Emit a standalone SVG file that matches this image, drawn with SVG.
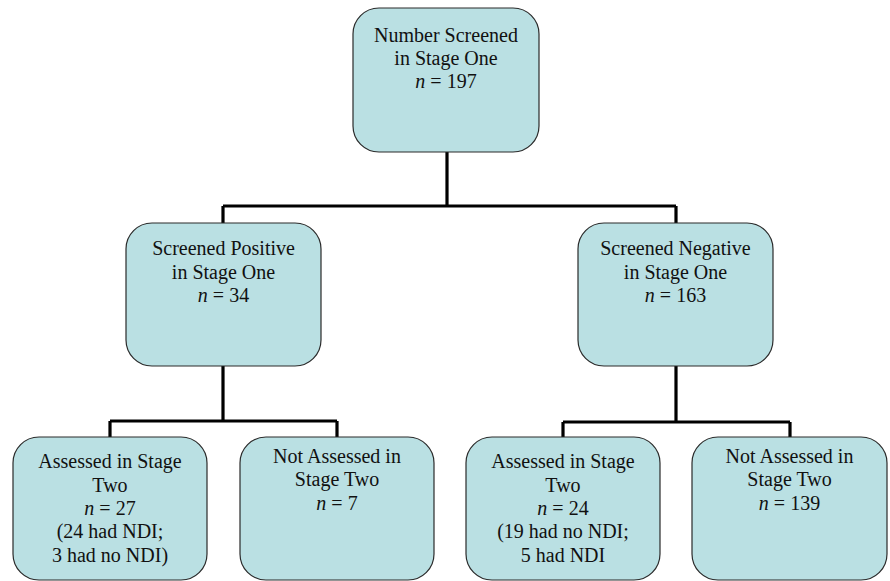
<svg xmlns="http://www.w3.org/2000/svg" width="890" height="581" viewBox="0 0 890 581">
<style>
.box{fill:#BAE0E3;stroke:#2a2a2a;stroke-width:1.2}
.t{font-family:'Liberation Serif','DejaVu Serif',serif;font-size:20px;fill:#111;text-anchor:middle}
.conn{fill:none;stroke:#000;stroke-width:3.2}
</style>
<rect width="890" height="581" fill="#fff"/>
<g id="connectors" class="conn">
<path d="M447 152V206M223 206H676M223 206V223M676 206V223"/>
<path d="M223 366V421M110 421H337M110 421V437M337 421V437"/>
<path d="M676 366V422M563 422H790M563 422V437M790 422V437"/>
</g>
<g id="n1"><rect class="box" x="353" y="8" width="186" height="144" rx="26"/>
<text class="t" font-family="Liberation Serif, serif"><tspan x="446" y="42">Number Screened</tspan><tspan x="446" y="65">in Stage One</tspan><tspan x="446" y="88"><tspan font-style="italic">n</tspan> = 197</tspan></text></g>
<g id="n2"><rect class="box" x="126" y="223" width="195" height="143" rx="26"/>
<text class="t" font-family="Liberation Serif, serif"><tspan x="223.5" y="255">Screened Positive</tspan><tspan x="223.5" y="279">in Stage One</tspan><tspan x="223.5" y="302"><tspan font-style="italic">n</tspan> = 34</tspan></text></g>
<g id="n3"><rect class="box" x="578" y="223" width="195" height="143" rx="26"/>
<text class="t" font-family="Liberation Serif, serif"><tspan x="675.5" y="255">Screened Negative</tspan><tspan x="675.5" y="279">in Stage One</tspan><tspan x="675.5" y="302"><tspan font-style="italic">n</tspan> = 163</tspan></text></g>
<g id="n4"><rect class="box" x="13" y="437" width="194" height="143" rx="26"/>
<text class="t" font-family="Liberation Serif, serif"><tspan x="110" y="468">Assessed in Stage</tspan><tspan x="110" y="492">Two</tspan><tspan x="110" y="515"><tspan font-style="italic">n</tspan> = 27</tspan><tspan x="110" y="538">(24 had NDI;</tspan><tspan x="110" y="562">3 had no NDI)</tspan></text></g>
<g id="n5"><rect class="box" x="240" y="437" width="194" height="143" rx="26"/>
<text class="t" font-family="Liberation Serif, serif"><tspan x="337" y="463">Not Assessed in</tspan><tspan x="337" y="486">Stage Two</tspan><tspan x="337" y="510"><tspan font-style="italic">n</tspan> = 7</tspan></text></g>
<g id="n6"><rect class="box" x="466" y="437" width="194" height="143" rx="26"/>
<text class="t" font-family="Liberation Serif, serif"><tspan x="563" y="468">Assessed in Stage</tspan><tspan x="563" y="492">Two</tspan><tspan x="563" y="515"><tspan font-style="italic">n</tspan> = 24</tspan><tspan x="563" y="538">(19 had no NDI;</tspan><tspan x="563" y="562">5 had NDI</tspan></text></g>
<g id="n7"><rect class="box" x="692" y="437" width="195" height="143" rx="26"/>
<text class="t" font-family="Liberation Serif, serif"><tspan x="789.5" y="463">Not Assessed in</tspan><tspan x="789.5" y="486">Stage Two</tspan><tspan x="789.5" y="510"><tspan font-style="italic">n</tspan> = 139</tspan></text></g>
</svg>
